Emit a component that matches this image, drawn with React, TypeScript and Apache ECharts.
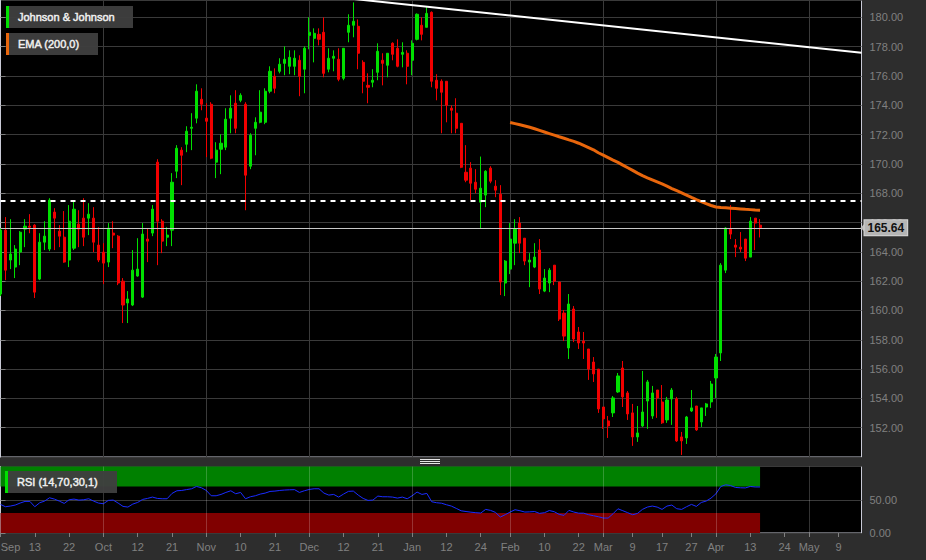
import { useEffect, useRef } from 'react';
import * as echarts from 'echarts';

// Trading-day index: 0 = 1 Sep 2022, one step per trading day.
const opens = [
  161.12, 165.48, 163.44, 162.96, 163.98, 165.55, 165.75, 165.82, 162.14, 164.66,
  164.19, 166.71, 165.41, 165.0, 163.44, 164.25, 165.89, 166.3, 166.3, 166.3,
  164.46, 163.98, 163.3, 165.28, 165.07, 162.0, 160.51, 160.37, 162.35, 160.91,
  164.87, 165.28, 170.12, 166.09, 165.0, 165.48, 169.5, 170.94, 171.34, 172.43,
  173.12, 174.41, 173.12, 174.07, 170.12, 171.0, 171.14, 173.12, 174.14, 174.34,
  174.07, 169.84, 172.43, 172.84, 172.84, 174.96, 175.98, 176.32, 176.86, 176.66,
  176.66, 177.07, 176.46, 178.77, 178.57, 178.84, 178.98, 176.46, 177.21, 177.14,
  175.84, 178.98, 179.46, 179.39, 176.93, 175.36, 175.57, 176.25, 177.07, 176.73,
  178.23, 177.89, 177.48, 177.55, 177.07, 178.5, 179.46, 179.32, 180.34, 175.71,
  175.64, 175.64, 173.8, 173.46, 172.77, 169.43, 169.71, 168.75, 167.39, 167.87,
  169.71, 168.48, 167.93, 161.87, 162.82, 164.59, 165.96, 164.93, 163.3, 162.96,
  164.12, 161.32, 161.87, 163.09, 161.94, 159.82, 157.44, 160.1, 158.53, 157.91,
  157.37, 156.48, 156.0, 153.41, 152.46, 153.01, 154.44, 156.07, 154.37, 153.01,
  151.37, 152.12, 153.82, 152.8, 154.57, 153.75, 152.53, 153.96, 153.96, 151.37,
  151.3, 153.14, 153.48, 152.39, 153.41, 153.76, 155.39, 157.1, 162.75, 165.55,
  164.46, 164.32, 164.87, 163.64, 166.3, 165.82,
];
const closes = [
  165.48, 162.75, 163.85, 164.19, 165.34, 165.75, 165.68, 161.25, 164.66, 165.07,
  167.53, 166.3, 165.07, 163.3, 166.09, 166.91, 165.55, 165.0, 166.57, 164.66,
  163.44, 163.23, 165.62, 165.14, 161.87, 160.37, 160.78, 162.75, 162.82, 165.21,
  164.73, 166.91, 166.09, 164.73, 165.14, 168.75, 171.07, 170.59, 172.23, 172.5,
  174.96, 174.07, 172.91, 170.39, 170.94, 171.41, 173.05, 173.8, 172.43, 174.68,
  169.23, 171.96, 172.84, 173.53, 174.96, 176.32, 175.16, 176.8, 177.14, 177.27,
  177.21, 175.98, 177.89, 178.98, 178.91, 178.5, 176.18, 177.21, 177.34, 175.77,
  177.89, 179.46, 179.73, 177.55, 175.64, 175.23, 175.71, 177.68, 176.86, 177.55,
  177.48, 176.66, 177.61, 176.66, 178.23, 180.21, 178.84, 180.27, 175.64, 175.16,
  174.89, 174.0, 173.66, 172.43, 169.77, 168.89, 168.68, 168.27, 168.34, 169.5,
  168.82, 168.21, 161.94, 163.37, 164.87, 165.55, 164.59, 163.37, 163.44, 163.64,
  161.46, 162.21, 162.75, 162.0, 159.41, 158.25, 160.44, 158.05, 157.78, 157.78,
  156.0, 155.67, 153.28, 152.6, 152.12, 154.03, 155.53, 154.1, 152.94, 151.37,
  151.64, 153.07, 155.12, 154.37, 154.03, 152.33, 153.89, 154.57, 151.1, 151.1,
  152.73, 153.35, 151.85, 153.35, 153.62, 154.98, 156.82, 163.09, 165.62, 165.21,
  164.32, 164.19, 163.57, 166.09, 165.96, 165.64,
];
const lows = [
  160.98, 162.07, 162.82, 162.21, 163.09, 164.32, 165.27, 160.85, 162.07, 164.12,
  164.05, 164.12, 164.32, 163.25, 162.96, 164.12, 164.32, 164.39, 165.14, 163.98,
  163.3, 161.8, 162.96, 164.25, 161.73, 159.14, 159.14, 160.3, 162.3, 160.85,
  163.3, 165.07, 163.09, 163.91, 164.39, 164.39, 169.03, 168.55, 170.8, 170.94,
  172.77, 173.66, 170.46, 170.32, 169.03, 169.3, 170.94, 172.09, 172.09, 174.21,
  166.84, 169.64, 170.59, 172.77, 172.71, 174.82, 174.82, 176.18, 176.05, 176.12,
  176.05, 174.62, 174.82, 177.82, 176.93, 178.09, 175.91, 176.25, 176.32, 175.64,
  175.71, 178.3, 178.64, 176.46, 174.82, 174.14, 175.23, 175.71, 175.36, 175.91,
  177.07, 176.59, 176.59, 175.43, 176.05, 178.43, 178.43, 179.32, 175.23, 174.34,
  172.09, 172.84, 172.09, 172.09, 169.71, 168.75, 167.53, 168.0, 165.62, 167.05,
  168.68, 167.73, 161.05, 160.98, 162.48, 163.09, 163.91, 163.09, 161.59, 162.89,
  161.12, 161.25, 161.25, 161.73, 159.28, 157.91, 156.69, 157.84, 157.37, 156.69,
  155.26, 155.12, 153.01, 151.92, 151.3, 152.73, 154.37, 153.41, 152.53, 150.76,
  151.03, 152.05, 151.92, 152.6, 152.67, 152.26, 152.33, 152.19, 151.03, 150.14,
  150.89, 153.07, 151.78, 152.05, 152.8, 153.35, 154.03, 156.55, 162.55, 164.87,
  163.64, 163.98, 163.37, 163.64, 164.12, 164.98,
];
const highs = [
  165.62, 166.37, 166.23, 164.46, 165.41, 166.23, 166.57, 165.89, 165.27, 166.09,
  167.66, 166.98, 165.82, 166.78, 167.19, 167.46, 166.84, 167.66, 167.32, 167.05,
  165.68, 164.59, 165.96, 166.09, 165.14, 162.21, 161.32, 164.12, 164.93, 165.96,
  165.62, 167.19, 170.32, 166.23, 165.68, 169.37, 171.28, 171.14, 172.57, 173.46,
  175.43, 175.16, 174.14, 174.21, 171.48, 172.02, 173.8, 174.68, 175.03, 174.82,
  174.21, 172.09, 173.18, 175.03, 175.16, 176.66, 176.52, 177.21, 178.02, 177.75,
  177.75, 177.41, 178.02, 180.0, 179.25, 179.25, 180.0, 177.89, 177.75, 177.89,
  177.89, 180.21, 181.02, 179.86, 177.07, 176.18, 176.46, 178.23, 177.55, 177.55,
  178.3, 178.5, 178.3, 177.75, 178.43, 180.27, 180.0, 180.75, 180.41, 176.12,
  175.77, 175.64, 174.0, 174.48, 172.77, 171.28, 170.12, 169.64, 170.5, 169.57,
  169.84, 168.89, 168.55, 163.44, 165.96, 166.23, 166.37, 164.93, 163.91, 164.59,
  164.87, 162.82, 162.89, 163.09, 161.94, 160.03, 161.12, 160.3, 158.87, 158.53,
  157.37, 156.82, 156.0, 153.41, 152.8, 154.16, 155.73, 156.55, 154.5, 153.62,
  153.48, 155.87, 155.26, 154.85, 154.57, 154.91, 154.1, 154.71, 154.1, 151.71,
  152.8, 154.57, 153.48, 153.35, 153.69, 155.19, 157.03, 163.23, 165.68, 167.19,
  164.87, 165.35, 164.87, 166.37, 166.3, 166.23,
];
const rsiValues = [
  43, 39.5, 40.5, 42, 45, 47.5, 47.5, 39.5, 45.5, 48,
  53, 51, 48, 44.5, 50, 51, 49.5, 50, 51.5, 48,
  45, 44, 49, 49.5, 45, 40, 39, 43.5, 46, 50.5,
  52, 54, 52, 51.5, 51.5, 59.5, 63.5, 64, 65.3, 66.5,
  70, 68, 64, 56, 56, 58, 61, 63.5, 59, 61,
  51.5, 54.5, 56, 58.5, 60, 62.5, 63, 64, 64.6, 65,
  65.2, 61, 63.5, 65.5, 66.5, 66.5, 60, 57, 58, 54,
  58.5, 62.6, 63, 57, 52, 49, 49.5, 55.5, 54.5, 54.5,
  54, 52.5, 54, 51.5, 56, 61.6, 58, 59.5, 47, 45.5,
  44.8, 42.5, 40.5, 37, 33.4, 32.3, 31.3, 30.5, 30, 35.5,
  34, 31, 24, 27.5, 31.5, 35, 33.5, 31.5, 31.8, 32.3,
  29.5, 30.5, 33.8, 32, 28, 26.5, 34, 31.5, 29.8, 29.8,
  27.5, 26, 24.5, 22.5, 22.5, 29, 36.4, 33.5, 30.5, 27.4,
  29.5, 35.5, 39, 40.5, 39, 35.5, 40.5, 42, 36.5, 35.5,
  39.5, 43, 40, 45.9, 48, 52.5, 59, 70, 72.5, 71.3,
  68.5, 68, 67.8, 70, 69.2, 69.2,
];
const emaStartDay = 104;
const emaValues = [
  172.83, 172.75, 172.67, 172.59, 172.5, 172.4, 172.29, 172.18, 172.07, 171.96,
  171.85, 171.75, 171.64, 171.54, 171.41, 171.26, 171.11, 170.96, 170.76, 170.6,
  170.43, 170.26, 170.1, 169.92, 169.74, 169.56, 169.37, 169.2, 169.05, 168.91,
  168.77, 168.63, 168.48, 168.32, 168.17, 168.02, 167.87, 167.71, 167.56, 167.42,
  167.29, 167.16, 167.06, 167.02, 167.0, 166.98, 166.96, 166.93, 166.9, 166.88,
  166.85, 166.83,
];
const resistanceLevel = 167.47;
const trendLinePoints = [
  [70, 181.33],
  [175.7, 177.58],
];
const rsiUpper = 70;
const rsiLower = 30;
const tickDays = [0, 7, 14, 21, 28, 35, 42, 49, 56, 63, 70, 77, 84, 91, 98, 104, 111, 118, 123, 129, 135, 141, 146, 153, 160, 165, 171];
const tickLabels = ['Sep', '13', '22', 'Oct', '12', '21', 'Nov', '10', '21', 'Dec', '12', '21', 'Jan', '12', '24', 'Feb', '10', '22', 'Mar', '9', '17', '27', 'Apr', '13', '24', 'May', '9'];
const monthStartDays = [21, 42, 63, 84, 104, 123, 146, 165];
const axisEndDay = 175.7;
const priceMin = 150;
const priceMax = 181.15;
const priceStep = 2;

const FONT = '"Liberation Sans", Arial, sans-serif';
const GRID_LINE = '#3a3a3a';
const AXIS_TEXT = '#808080';
const BORDER = '#c9cad6';
const UP = '#00e000';
const DOWN = '#f20000';

export default function App() {
  const ref = useRef<HTMLDivElement>(null);
  useEffect(() => {
    if (!ref.current) return;
    const chart = echarts.init(ref.current, undefined, { renderer: 'svg' });
    const candles = opens.map((o, i) => [i, o, closes[i], lows[i], highs[i]]);
    const lastClose = closes[closes.length - 1];
    const lastDay = closes.length - 1;
    const rsiData = rsiValues.map((v, i) => [i, v]);
    const emaData = emaValues.map((v, i) => [emaStartDay + i, v]);

    const legendBox = (x: number, y: number, w: number, color: string, text: string) => ({
      type: 'group',
      x,
      y,
      z: 100,
      children: [
        { type: 'rect', z: 100, shape: { x: 0, y: 0, width: w, height: 22 }, style: { fill: 'rgba(62,62,62,0.96)' } },
        { type: 'rect', z: 101, shape: { x: 0, y: 0, width: 3, height: 22 }, style: { fill: color } },
        {
          type: 'text', z: 102, x: 12, y: 11,
          style: {
            text, fill: '#f0f0f0', fontSize: 11, fontFamily: FONT, verticalAlign: 'middle',
            stroke: '#f0f0f0', lineWidth: 0.45,
          },
        },
      ],
    });

    chart.setOption({
      animation: false,
      backgroundColor: '#2d2d2d',
      textStyle: { fontFamily: FONT },
      grid: [
        { left: 0.5, top: 0.5, width: 861, height: 456.5, show: true, backgroundColor: '#000', borderColor: BORDER, borderWidth: 1, outerBoundsMode: 'none' },
        { left: 0.5, top: 466.5, width: 861, height: 66.5, show: true, backgroundColor: '#000', borderColor: BORDER, borderWidth: 1, outerBoundsMode: 'none' },
      ],
      xAxis: [
        {
          type: 'value', gridIndex: 0, min: 0, max: axisEndDay,
          axisLine: { show: false },
          axisTick: { show: false, customValues: monthStartDays },
          axisLabel: { show: false, customValues: monthStartDays },
          splitLine: { show: true, lineStyle: { color: GRID_LINE, width: 1 } },
        },
        {
          type: 'value', gridIndex: 1, min: 0, max: axisEndDay, position: 'bottom',
          axisLine: { show: false },
          axisTick: { show: true, length: 4, customValues: tickDays, lineStyle: { color: AXIS_TEXT } },
          axisLabel: {
            show: true, customValues: tickDays, color: AXIS_TEXT, fontSize: 11, fontFamily: FONT, margin: 8,
            formatter: (v: number) => {
              const i = tickDays.indexOf(v);
              const s = i >= 0 ? tickLabels[i] : '';
              return v === 0 ? '{l|' + s + '}' : s;
            },
            rich: { l: { padding: [0, 0, 0, 20], color: AXIS_TEXT, fontSize: 11, fontFamily: FONT } },
          },
          splitLine: { show: false },
        },
      ],
      yAxis: [
        {
          type: 'value', gridIndex: 0, position: 'right', min: priceMin, max: priceMax, interval: priceStep,
          axisLine: { show: true, lineStyle: { color: BORDER } },
          axisTick: { show: true, length: 5, lineStyle: { color: AXIS_TEXT } },
          axisLabel: {
            color: AXIS_TEXT, fontSize: 11, fontFamily: FONT, margin: 8, showMinLabel: false, showMaxLabel: false,
            formatter: (v: number) => v.toFixed(2),
          },
          splitLine: { show: true, lineStyle: { color: GRID_LINE, width: 1 } },
        },
        {
          type: 'value', gridIndex: 1, position: 'right', min: 0, max: 100, interval: 50,
          axisLine: { show: true, lineStyle: { color: BORDER } },
          axisTick: { show: true, length: 5, lineStyle: { color: AXIS_TEXT } },
          axisLabel: {
            color: AXIS_TEXT, fontSize: 11, fontFamily: FONT, margin: 8, showMaxLabel: false,
            formatter: (v: number) => v.toFixed(2),
          },
          splitLine: { show: true, lineStyle: { color: GRID_LINE, width: 1 } },
        },
      ],
      series: [
        {
          type: 'candlestick', xAxisIndex: 0, yAxisIndex: 0,
          data: candles,
          encode: { x: 0, y: [1, 2, 3, 4] },
          barWidth: 2.6,
          clip: true,
          itemStyle: { color: UP, color0: DOWN, borderColor: UP, borderColor0: DOWN, borderColorDoji: DOWN, borderWidth: 1 },
          markLine: {
            silent: true, symbol: ['none', 'none'], animation: false,
            data: [
              { yAxis: resistanceLevel, lineStyle: { color: '#ffffff', width: 2, type: [5, 5] }, label: { show: false } },
              {
                yAxis: lastClose, lineStyle: { color: '#c8c8c8', width: 1, type: 'solid' },
                label: {
                  show: true, position: 'end', distance: 3, formatter: lastClose.toFixed(2),
                  color: '#111', fontSize: 12, fontWeight: 'bold', fontFamily: FONT,
                  backgroundColor: '#b5b5b5', borderColor: '#d6d6d6', borderWidth: 1, padding: [2, 3, 1, 3],
                },
              },
            ],
          },
          markPoint: {
            silent: true, animation: false,
            symbol: 'triangle', symbolSize: [8, 4], symbolRotate: 90, symbolOffset: [1, 0],
            itemStyle: { color: '#b5b5b5' }, label: { show: false },
            data: [{ coord: [axisEndDay, lastClose] }],
          },
        },
        {
          type: 'line', xAxisIndex: 0, yAxisIndex: 0, data: emaData, symbol: 'none', clip: true,
          lineStyle: { color: '#e8660c', width: 3 }, z: 3,
        },
        {
          type: 'line', xAxisIndex: 0, yAxisIndex: 0, data: trendLinePoints, symbol: 'none', clip: true,
          lineStyle: { color: '#ffffff', width: 2 }, z: 3,
        },
        {
          type: 'line', xAxisIndex: 1, yAxisIndex: 1, data: rsiData, symbol: 'none', clip: true,
          lineStyle: { color: '#1a2cff', width: 1 }, z: 3,
          markArea: {
            silent: true, animation: false,
            data: [
              [{ xAxis: 0, yAxis: rsiUpper, itemStyle: { color: '#008000', opacity: 1 } }, { xAxis: lastDay, yAxis: 100 }],
              [{ xAxis: 0, yAxis: 0, itemStyle: { color: '#800000', opacity: 1 } }, { xAxis: lastDay, yAxis: rsiLower }],
            ],
          },
          markLine: {
            silent: true, symbol: ['none', 'none'], animation: false,
            label: { show: false },
            lineStyle: { color: 'rgba(255,255,255,0.2)', width: 1, type: 'solid' },
            data: monthStartDays.map((d) => ({ xAxis: d })),
          },
        },
      ],
      graphic: [
        legendBox(6, 6, 127, '#00e000', 'Johnson & Johnson'),
        legendBox(6, 33, 92, '#e8660c', 'EMA (200,0)'),
        legendBox(5, 471, 112, '#00e000', 'RSI (14,70,30,1)'),
        {
          type: 'group', x: 420, y: 459, z: 100,
          children: [0, 2, 4].map((dy) => ({
            type: 'rect', z: 100, shape: { x: 0, y: dy, width: 20, height: 1 }, style: { fill: '#e6e6e6' },
          })),
        },
      ],
    });
    return () => chart.dispose();
  }, []);
  return <div ref={ref} style={{ position: 'fixed', left: 0, top: 0, width: 926, height: 560 }} />;
}
